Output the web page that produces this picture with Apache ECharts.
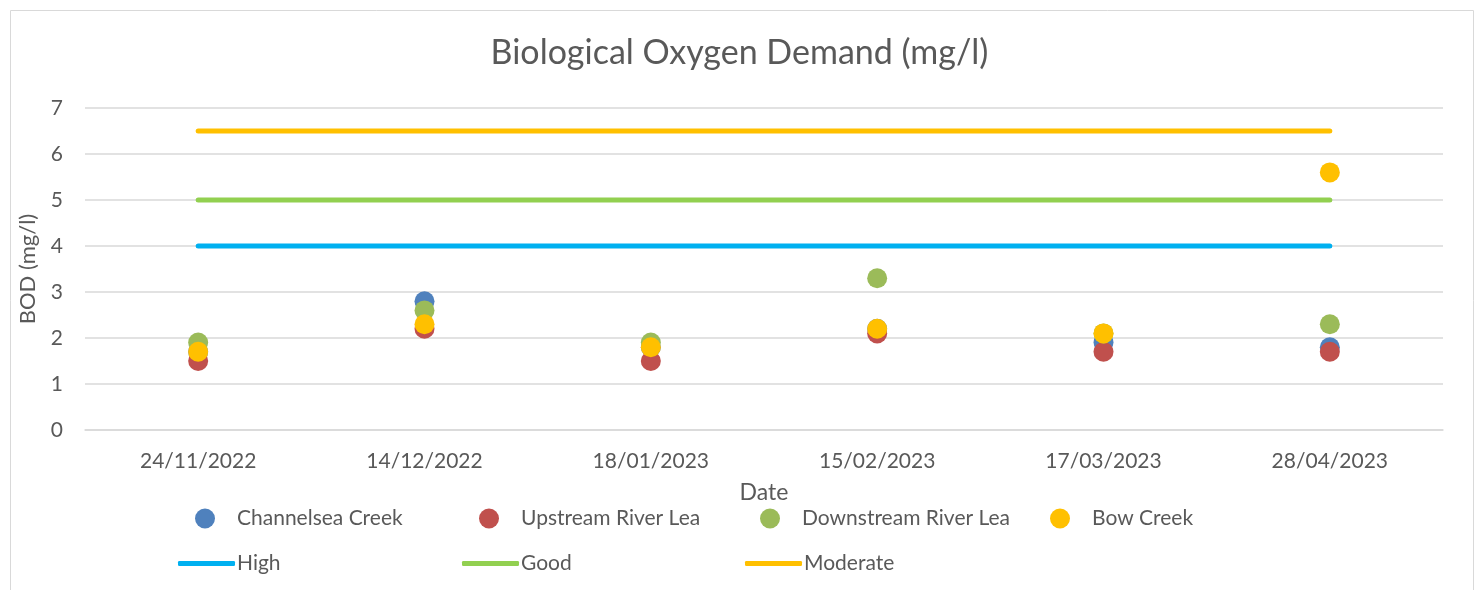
<!DOCTYPE html>
<html lang="en">
<head>
    <meta charset="UTF-8">
    <title>Biological Oxygen Demand</title>
    <style>
        html, body { margin: 0; padding: 0; background: #fff; }
        #chart { width: 1479px; height: 590px; }
    </style>
</head>
<body>
<div id="chart"></div>

<script src="https://cdn.jsdelivr.net/npm/echarts/dist/echarts.min.js"></script>
<script>
// sample dates
const dates = ['24/11/2022', '14/12/2022', '18/01/2023', '15/02/2023', '17/03/2023', '28/04/2023'];

// BOD readings per site (mg/l)
const channelsea = [1.7, 2.8, 1.8, 2.2, 1.9, 1.8];
const upstreamLea = [1.5, 2.2, 1.5, 2.1, 1.7, 1.7];
const downstreamLea = [1.9, 2.6, 1.9, 3.3, 2.1, 2.3];
const bowCreek = [1.7, 2.3, 1.8, 2.2, 2.1, 5.6];

// classification thresholds
const high = [4, 4, 4, 4, 4, 4];
const good = [5, 5, 5, 5, 5, 5];
const moderate = [6.5, 6.5, 6.5, 6.5, 6.5, 6.5];

const yTicks = [0, 1, 2, 3, 4, 5, 6, 7];

const txt = '#595959';
const font = 'Lato';

const chart = echarts.init(document.getElementById('chart'));

function dotSeries(name, data, color) {
    return {
        name: name, type: 'scatter', data: data,
        symbol: 'circle', symbolSize: 20,
        itemStyle: { color: color, opacity: 1 }
    };
}
function lineSeries(name, data, color) {
    return {
        name: name, type: 'line', data: data,
        showSymbol: false, symbol: 'none',
        lineStyle: { color: color, width: 5, cap: 'round' },
        itemStyle: { color: color }
    };
}
function legendItem(name, left, top, isLine) {
    return {
        data: [name], left: left, top: top,
        icon: isLine ? 'roundRect' : 'circle',
        itemWidth: isLine ? 57 : 20,
        itemHeight: isLine ? 5 : 20,
        textStyle: { color: txt, fontFamily: font, fontSize: 21, padding: isLine ? [0, 0, 0, -3] : [0, 0, 0, 17] }
    };
}

chart.setOption({
    animation: false,
    graphic: [{
        type: 'rect', left: 8, top: 8,
        shape: { width: 1463, height: 590 },
        style: { fill: 'none', stroke: '#D9D9D9', lineWidth: 1 }
    }],
    title: {
        text: 'Biological Oxygen Demand (mg/l)',
        left: 'center', top: 31,
        textStyle: { color: txt, fontFamily: font, fontSize: 34, fontWeight: 'normal' }
    },
    legend: [
        legendItem('Channelsea Creek', 190, 503, false),
        legendItem('Upstream River Lea', 474, 503, false),
        legendItem('Downstream River Lea', 755, 503, false),
        legendItem('Bow Creek', 1045, 503, false),
        legendItem('High', 173, 548, true),
        legendItem('Good', 457, 548, true),
        legendItem('Moderate', 740, 548, true)
    ],
    grid: { left: 85, right: 36, top: 108, bottom: 160 },
    xAxis: {
        type: 'category', data: dates, boundaryGap: true,
        name: 'Date', nameLocation: 'middle', nameGap: 51,
        nameTextStyle: { color: txt, fontFamily: font, fontSize: 23 },
        axisLine: { lineStyle: { color: '#D9D9D9', width: 1.5 } },
        axisTick: { show: false },
        axisLabel: { color: txt, fontFamily: font, fontSize: 21, margin: 21 }
    },
    yAxis: {
        type: 'value', min: yTicks[0], max: yTicks[yTicks.length - 1], interval: 1,
        name: 'BOD (mg/l)', nameLocation: 'middle', nameGap: 46,
        nameTextStyle: { color: txt, fontFamily: font, fontSize: 22 },
        axisLine: { show: false },
        axisTick: { show: false },
        axisLabel: { color: txt, fontFamily: font, fontSize: 21, margin: 22 },
        splitLine: { lineStyle: { color: '#D9D9D9', width: 1.5 } }
    },
    series: [
        lineSeries('High', high, '#00B0F0'),
        lineSeries('Good', good, '#92D050'),
        lineSeries('Moderate', moderate, '#FFC000'),
        dotSeries('Channelsea Creek', channelsea, '#4F81BD'),
        dotSeries('Upstream River Lea', upstreamLea, '#C0504D'),
        dotSeries('Downstream River Lea', downstreamLea, '#9BBB59'),
        dotSeries('Bow Creek', bowCreek, '#FFC000')
    ]
});
window.addEventListener('resize', function() { chart.resize(); });
</script>
</body>
</html>
